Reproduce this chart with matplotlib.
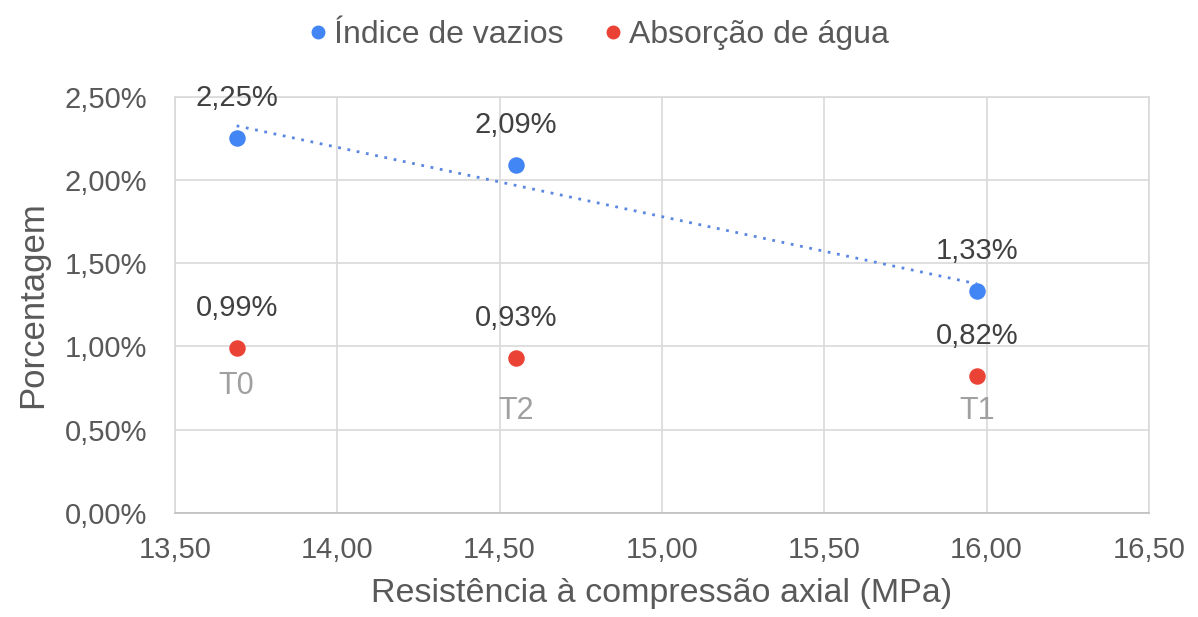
import matplotlib
matplotlib.use("Agg")
import matplotlib.pyplot as plt
from matplotlib.ticker import FuncFormatter
from matplotlib.lines import Line2D
import numpy as np

# dados
tracos = ["T0", "T2", "T1"]
resistencia = [13.69, 14.55, 15.97]          # MPa
indice_vazios = [2.25, 2.09, 1.33]           # %
absorcao_agua = [0.99, 0.93, 0.82]           # %
x_ticks = [13.5, 14.0, 14.5, 15.0, 15.5, 16.0, 16.5]
y_ticks = [0.0, 0.5, 1.0, 1.5, 2.0, 2.5]

AZUL = "#4285F4"
VERMELHO = "#EA4335"
CINZA = "#595959"

plt.rcParams["font.family"] = ["Liberation Sans", "DejaVu Sans"]

fig = plt.figure(figsize=(11.98, 6.17), dpi=100)
ax = fig.add_axes([0.146, 0.169, 0.813, 0.674])

ax.scatter(resistencia, indice_vazios, s=118, color=AZUL, zorder=3)
ax.scatter(resistencia, absorcao_agua, s=118, color=VERMELHO, zorder=3)

# linha de tendencia (linear) do indice de vazios
coef = np.polyfit(resistencia, indice_vazios, 1)
xt = np.array([min(resistencia), max(resistencia)])
ax.plot(xt, np.polyval(coef, xt), color="#5b87e0", lw=2, ls=(0, (1, 2.4)), zorder=2)

def pct(v):
    return f"{v:.2f}%".replace(".", ",")

for x, y in zip(resistencia, indice_vazios):
    ax.annotate(pct(y), (x, y), xytext=(0, 29), textcoords="offset points",
                ha="center", va="center", fontsize=21, color="#404040")
for x, y in zip(resistencia, absorcao_agua):
    ax.annotate(pct(y), (x, y), xytext=(0, 29), textcoords="offset points",
                ha="center", va="center", fontsize=21, color="#404040")

# rotulos dos tracos abaixo dos pontos
desloc = [-27, -38, -25]
for x, y, t, d in zip(resistencia, absorcao_agua, tracos, desloc):
    ax.annotate(t, (x, y), xytext=(0, d), textcoords="offset points",
                ha="center", va="center", fontsize=22, color="#a0a0a0")

ax.set_xlim(13.5, 16.5)
ax.set_ylim(0, 2.5)
ax.set_xticks(x_ticks)
ax.set_yticks(y_ticks)
ax.xaxis.set_major_formatter(FuncFormatter(lambda v, p: f"{v:.2f}".replace(".", ",")))
ax.yaxis.set_major_formatter(FuncFormatter(lambda v, p: pct(v)))
ax.tick_params(length=0, labelsize=21, labelcolor=CINZA)
ax.tick_params(axis="y", pad=20)
ax.tick_params(axis="x", pad=17)

ax.grid(True, color="#d9d9d9", lw=1.2)
ax.set_axisbelow(True)
for s in ax.spines.values():
    s.set_color("#d9d9d9")
    s.set_linewidth(1.2)
ax.spines["bottom"].set_color("#bfbfbf")

ax.set_xlabel("Resistência à compressão axial (MPa)", fontsize=24.5, color=CINZA, labelpad=10)
ax.set_ylabel("Porcentagem", fontsize=25, color=CINZA, labelpad=11)

handles = [Line2D([], [], ls="", marker="o", ms=9, color=AZUL),
           Line2D([], [], ls="", marker="o", ms=9, color=VERMELHO)]
fig.legend(handles, ["Índice de vazios", "Absorção de água"], loc="center",
           bbox_to_anchor=(0.5, 0.943), ncol=2, frameon=False, fontsize=23,
           handlelength=0.5, handletextpad=0.25, columnspacing=1.3, labelcolor=CINZA)

fig.savefig("out.png", dpi=100)
